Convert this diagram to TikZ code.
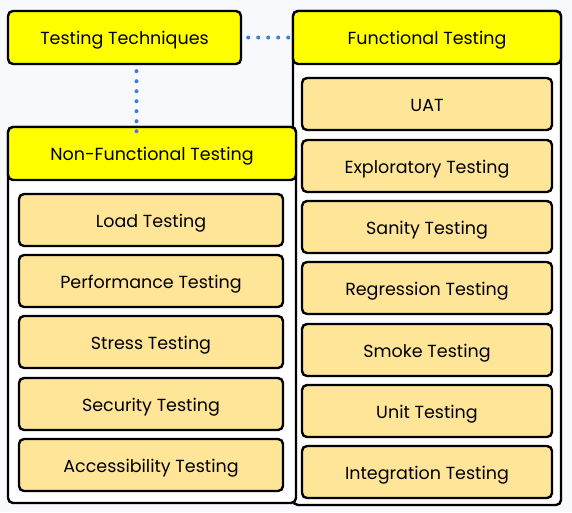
\documentclass[tikz,border=0pt]{standalone}
\usepackage{fontspec}
\setmainfont{Poppins}
\usetikzlibrary{positioning}

\definecolor{bgcol}{HTML}{F8F9FC}
\definecolor{headcol}{HTML}{FFFF00}
\definecolor{itemcol}{HTML}{FFE598}
\definecolor{linkcol}{HTML}{3B7DDD}

\begin{document}
\begin{tikzpicture}[x=1pt,y=-1pt]

\tikzstyle{frame} = [draw=black,line width=2.4pt,rounded corners=5pt,fill=white]
\tikzstyle{head} = [draw=black,line width=2.4pt,rounded corners=5pt,fill=headcol,font=\fontsize{17.5}{20}\selectfont,inner sep=0pt,text height=15.5pt,text depth=0.6pt]
\tikzstyle{item} = [draw=black,line width=2.4pt,rounded corners=5pt,fill=itemcol,font=\fontsize{17.5}{20}\selectfont,inner sep=0pt,text height=15.5pt,text depth=0.6pt]
\tikzstyle{link} = [linkcol,line width=4pt,line cap=round,dash pattern=on 0pt off 10pt]

\fill[bgcol] (0,0) rectangle (572,512);
\useasboundingbox (0,0) rectangle (572,512);

% functional testing
\node[frame,minimum width=268pt,minimum height=494pt](fbox) at (427,258){};
\node[head,minimum width=268pt,minimum height=53pt](fhead) at (427,37.5){Functional Testing};

\node[item,minimum width=250pt,minimum height=52pt](f1) at (427,104){UAT};
\node[item,minimum width=250pt,minimum height=52pt](f2) at (427,166){Exploratory Testing};
\node[item,minimum width=250pt,minimum height=52pt](f3) at (427,227){Sanity Testing};
\node[item,minimum width=250pt,minimum height=52pt](f4) at (427,288){Regression Testing};
\node[item,minimum width=250pt,minimum height=52pt](f5) at (427,350){Smoke Testing};
\node[item,minimum width=250pt,minimum height=52pt](f6) at (427,411){Unit Testing};
\node[item,minimum width=250pt,minimum height=52pt](f7) at (427,472){Integration Testing};

% non-functional testing
\node[frame,minimum width=288pt,minimum height=376pt](nbox) at (152,315){};
\node[head,minimum width=288pt,minimum height=53pt](nhead) at (152,153.5){Non-Functional Testing};

\node[item,minimum width=264pt,minimum height=52pt](n1) at (151,220){Load Testing};
\node[item,minimum width=264pt,minimum height=52pt](n2) at (151,281){Performance Testing};
\node[item,minimum width=264pt,minimum height=52pt](n3) at (151,342){Stress Testing};
\node[item,minimum width=264pt,minimum height=52pt](n4) at (151,404){Security Testing};
\node[item,minimum width=264pt,minimum height=52pt](n5) at (151,465){Accessibility Testing};

% root
\node[head,minimum width=233pt,minimum height=53pt](root) at (124.5,37.5){Testing Techniques};

\draw[link] ([xshift=6pt]root.east) -- ([xshift=-3pt]fhead.west);
\draw[link] ([xshift=12pt,yshift=-6pt]root.south) -- ([xshift=12pt,yshift=-6pt]root.south |- nhead.north);

\end{tikzpicture}
\end{document}
